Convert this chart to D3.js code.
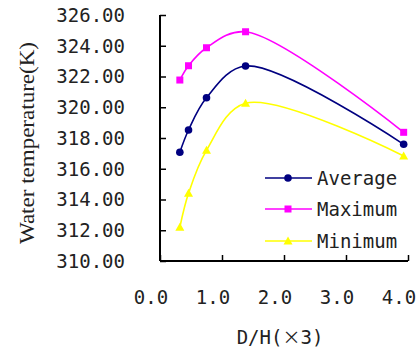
<!DOCTYPE html>
<html><head><meta charset="utf-8">
<script src="https://cdn.jsdelivr.net/npm/d3@7"></script>
<style>body{margin:0;background:#fff}svg{display:block}</style>
</head><body>
<script>
const xValues = [0.32, 0.46, 0.75, 1.38, 3.93];
const averageValues = [317.07, 318.52, 320.62, 322.68, 317.59];
const maximumValues = [321.77, 322.70, 323.87, 324.91, 318.37];
const minimumValues = [312.19, 314.40, 317.20, 320.26, 316.83];
const yTicks = [310, 312, 314, 316, 318, 320, 322, 324, 326];
const xTicks = [0, 1, 2, 3, 4];
const seriesNames = ["Average", "Maximum", "Minimum"];

const W = 419, H = 350;
const svg = d3.select("body").append("svg").attr("width", W).attr("height", H);
const x = d3.scaleLinear().domain([0, 4]).range([160, 408]);
const y = d3.scaleLinear().domain([310, 326]).range([261, 15]);
const mono = "'DejaVu Sans Mono', monospace";

const series = [
  {name: seriesNames[0], values: averageValues, color: "#000080", marker: "circle"},
  {name: seriesNames[1], values: maximumValues, color: "#FF00FF", marker: "square"},
  {name: seriesNames[2], values: minimumValues, color: "#FFFF00", marker: "triangle"}
];

// axes
const yAxis = d3.axisRight(y).tickValues(yTicks).tickSize(6).tickFormat("");
const gy = svg.append("g").attr("transform", "translate(160,0)").call(yAxis);
gy.select(".domain").attr("d", `M0,${y(326)}V${y(310)}`);
const xAxis = d3.axisTop(x).tickValues(xTicks).tickSize(6).tickFormat("");
const gx = svg.append("g").attr("transform", `translate(0,${y(310)})`).call(xAxis);
gx.select(".domain").attr("d", `M${x(0)},0H${x(4)}`);
svg.selectAll(".domain").attr("stroke", "#000").attr("stroke-width", 2);
svg.selectAll(".tick line").attr("stroke", "#000").attr("stroke-width", 1.5);

svg.append("g").selectAll("text").data(yTicks).join("text")
  .attr("x", 125).attr("y", d => y(d)).attr("dy", "0.36em")
  .attr("text-anchor", "end").attr("font-family", mono).attr("font-size", 19)
  .attr("fill", "#222").text(d => d.toFixed(2));
svg.append("g").selectAll("text").data(xTicks).join("text")
  .attr("x", d => x(d) - 9).attr("y", 297).attr("dy", "0.36em")
  .attr("text-anchor", "middle").attr("font-family", mono).attr("font-size", 19)
  .attr("fill", "#222").text(d => d.toFixed(1));

const xt = svg.append("text").attr("x", 280).attr("y", 337).attr("dy", "0.36em")
  .attr("text-anchor", "middle").attr("font-family", mono).attr("font-size", 19)
  .attr("fill", "#222");
xt.append("tspan").text("D/H(");
xt.append("tspan").attr("font-family", "'Noto Sans CJK SC', sans-serif").attr("font-size", 18).text("×");
xt.append("tspan").text("3)");
svg.append("text").attr("transform", "translate(27,143) rotate(-90)")
  .attr("text-anchor", "middle").attr("dy", "0.35em")
  .attr("font-family", "'Liberation Serif', serif").attr("font-size", 20)
  .attr("textLength", 202).attr("lengthAdjust", "spacingAndGlyphs")
  .attr("fill", "#222").text("Water temperature(K)");

const line = d3.line().x((d, i) => x(xValues[i])).y(d => y(d)).curve(d3.curveCatmullRom.alpha(0.5));

function marker(g, type, color, cx, cy) {
  if (type === "circle") g.append("circle").attr("cx", cx).attr("cy", cy).attr("r", 3.8).attr("fill", color);
  else if (type === "square") g.append("rect").attr("x", cx - 3.5).attr("y", cy - 3.5).attr("width", 7).attr("height", 7).attr("fill", color);
  else g.append("path").attr("d", `M${cx},${cy - 4.5}L${cx + 4.5},${cy + 3.5}L${cx - 4.5},${cy + 3.5}Z`).attr("fill", color);
}

series.forEach(s => {
  const g = svg.append("g");
  g.append("path").attr("d", line(s.values)).attr("fill", "none").attr("stroke", s.color).attr("stroke-width", 1.6);
  s.values.forEach((v, i) => marker(g, s.marker, s.color, x(xValues[i]), y(v)));
});

// legend
const legY = [178, 209, 241];
series.forEach((s, i) => {
  const g = svg.append("g");
  g.append("line").attr("x1", 265).attr("x2", 312).attr("y1", legY[i]).attr("y2", legY[i])
    .attr("stroke", s.color).attr("stroke-width", 1.6);
  marker(g, s.marker, s.color, 288, legY[i]);
  g.append("text").attr("x", 317).attr("y", legY[i]).attr("dy", "0.36em")
    .attr("font-family", mono).attr("font-size", 19).attr("fill", "#222").text(s.name);
});
</script>
</body></html>
